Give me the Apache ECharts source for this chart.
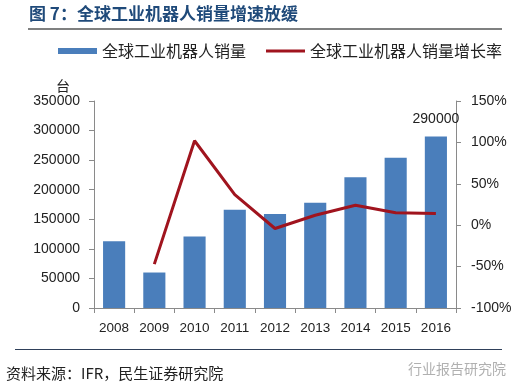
<!DOCTYPE html>
<html><head><meta charset="utf-8">
<script src="https://cdn.jsdelivr.net/npm/echarts@6/dist/echarts.min.js"></script>
<style>html,body{margin:0;padding:0;background:#fff}#c{width:530px;height:390px}</style>
</head><body><div id="c"></div>
<script>
const years = ['2008','2009','2010','2011','2012','2013','2014','2015','2016'];
const sales = [113000, 60000, 121000, 166000, 159000, 178000, 221000, 254000, 290000];
const growth = [null, -0.47, 1.02, 0.37, -0.04, 0.12, 0.24, 0.15, 0.1417];
const leftTicks = {min: 0, max: 350000, interval: 50000};
const rightTicks = {min: -1, max: 1.5, interval: 0.5};
const barName = '全球工业机器人销量';
const lineName = '全球工业机器人销量增长率';

const chart = echarts.init(document.getElementById('c'));
const axisGray = '#8a8a8a';
const cjk = '"Noto Sans CJK SC", "Liberation Sans", sans-serif';
chart.setOption({
  animation: false,
  backgroundColor: '#fff',
  textStyle: {fontFamily: '"Liberation Sans", Arial, sans-serif'},
  graphic: {
    elements: [
      {type: 'text', x: 29, y: 5, z: 100, style: {text: '图 7：全球工业机器人销量增速放缓', font: 'bold 17px "Noto Sans CJK SC"', fill: '#1f4a7a'}},
      {type: 'rect', x: 28, y: 28, z: 100, shape: {x: 0, y: 0, width: 474, height: 2}, style: {fill: '#7f8080'}},
      {type: 'rect', x: 15, y: 349, z: 100, shape: {x: 0, y: 0, width: 487, height: 1}, style: {fill: '#2f405a'}},
      {type: 'text', x: 6, y: 366, style: {text: '资料来源：IFR，民生证券研究院', font: '15px "Noto Sans CJK SC"', fill: '#222'}},
      {type: 'text', x: 408, y: 362, style: {text: '行业报告研究院', font: '14px "Noto Sans CJK SC"', fill: '#b0b0b0'}}
    ]
  },
  legend: {
    top: 38, left: 53,
    itemWidth: 39, itemHeight: 6, itemGap: 20, symbolKeepAspect: true,
    textStyle: {fontFamily: cjk, fontSize: 16, color: '#222'},
    data: [
      {name: barName, icon: 'rect'},
      {name: lineName, icon: 'path://M0,0 L39,0 L39,3 L0,3 Z'}
    ]
  },
  grid: {left: 94, right: 74, top: 101, bottom: 82},
  xAxis: {
    type: 'category', data: years, boundaryGap: true,
    axisLine: {lineStyle: {color: axisGray}},
    axisTick: {show: true, alignWithLabel: false, length: 5, lineStyle: {color: axisGray}},
    axisLabel: {fontSize: 13.5, color: '#222', margin: 13, interval: 0}
  },
  yAxis: [
    {
      type: 'value', min: leftTicks.min, max: leftTicks.max, interval: leftTicks.interval,
      name: '台', nameLocation: 'end', nameGap: 8,
      nameTextStyle: {fontFamily: cjk, fontSize: 14, color: '#222', align: 'right', padding: [0, 24, 0, 0]},
      splitLine: {show: false},
      axisLine: {show: true, lineStyle: {color: axisGray}},
      axisTick: {show: true, length: 5, lineStyle: {color: axisGray}},
      axisLabel: {fontSize: 14, color: '#222', margin: 14, formatter: v => String(v)}
    },
    {
      type: 'value', min: rightTicks.min, max: rightTicks.max, interval: rightTicks.interval,
      position: 'right',
      splitLine: {show: false},
      axisLine: {show: true, lineStyle: {color: axisGray}},
      axisTick: {show: true, length: 5, lineStyle: {color: axisGray}},
      axisLabel: {fontSize: 14, color: '#222', margin: 15,
        formatter: v => Math.round(v * 100) + '%'}
    }
  ],
  series: [
    {
      name: barName, type: 'bar', yAxisIndex: 0, barCategoryGap: '45%',
      itemStyle: {color: '#4a7ebb'},
      data: sales.map((v, i) => i === sales.length - 1
        ? {value: v, label: {show: true, position: 'top', distance: 10, fontSize: 14, color: '#222'}}
        : v)
    },
    {
      name: lineName, type: 'line', yAxisIndex: 1,
      symbol: 'none', connectNulls: false,
      lineStyle: {color: '#a0141e', width: 3},
      itemStyle: {color: '#a0141e'},
      data: growth.map((v, i) => i === growth.length - 1
        ? {value: v, label: {show: true, position: 'top', distance: 10, offset: [-5, 0], fontSize: 14, color: '#1a2a4a',
            formatter: p => (p.value * 100).toFixed(2) + '%'}}
        : v)
    }
  ]
});
</script></body></html>
